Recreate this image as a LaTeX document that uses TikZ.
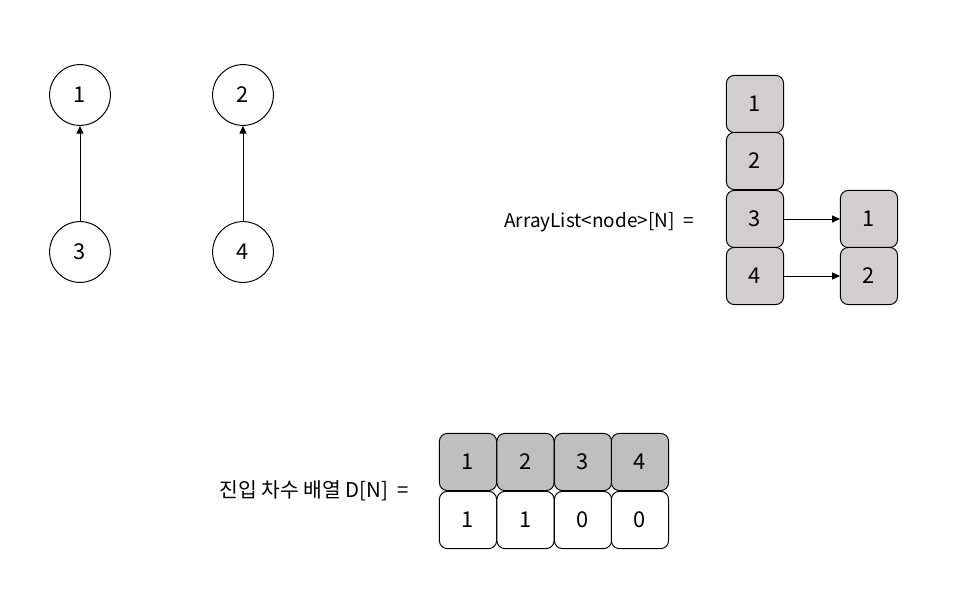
\documentclass[tikz,border=0pt]{standalone}
\usepackage{fontspec}
\setmainfont{Noto Sans CJK KR}
\usetikzlibrary{arrows.meta,positioning}

\definecolor{cellgray}{RGB}{208,206,206}
\definecolor{headgray}{RGB}{191,191,191}

\tikzset{
    vertex/.style={draw, circle, line width=0.7pt, minimum size=1.52cm, inner sep=0pt, font=\fontsize{15.5}{17}\selectfont},
    cell/.style={draw, rounded corners=0.2cm, line width=0.7pt, minimum width=1.43cm, minimum height=1.43cm, inner sep=0pt, font=\fontsize{15.5}{17}\selectfont},
    link/.style={-{Triangle[length=5.5pt,width=5pt]}, line width=0.7pt}
}

\begin{document}
\begin{tikzpicture}[x=0.025cm, y=-0.025cm]
    \useasboundingbox (0,0) rectangle (976,598);

    % Graph
    \node[vertex] (v1) at (80,95) {1};
    \node[vertex] (v2) at (243,95) {2};
    \node[vertex] (v3) at (80,252) {3};
    \node[vertex] (v4) at (243,252) {4};
    \draw[link] (v3) -- (v1);
    \draw[link] (v4) -- (v2);

    % Adjacency list
    \node[font=\fontsize{13.5}{15}\selectfont] (listlabel) at (599,222) {ArrayList<node>[N]\ \ =};
    \foreach \i/\y in {1/104,2/161,3/219,4/276}
        \node[cell, fill=cellgray] (a\i) at (755,\y) {\i};
    \node[cell, fill=cellgray] (e3) at (869,219) {1};
    \node[cell, fill=cellgray] (e4) at (869,276) {2};
    \draw[link] (a3) -- (e3);
    \draw[link] (a4) -- (e4);

    % In-degree array
    \node[font=\fontsize{14.5}{16}\selectfont] (deglabel) at (314,491) {진입 차수 배열 D[N]\ \ =};
    \foreach \i/\x/\d in {1/468/1,2/525.5/1,3/583/0,4/640/0} {
        \node[cell, fill=headgray] (h\i) at (\x,462) {\i};
        \node[cell, fill=white] (d\i) at (\x,520) {\d};
    }

\end{tikzpicture}
\end{document}
